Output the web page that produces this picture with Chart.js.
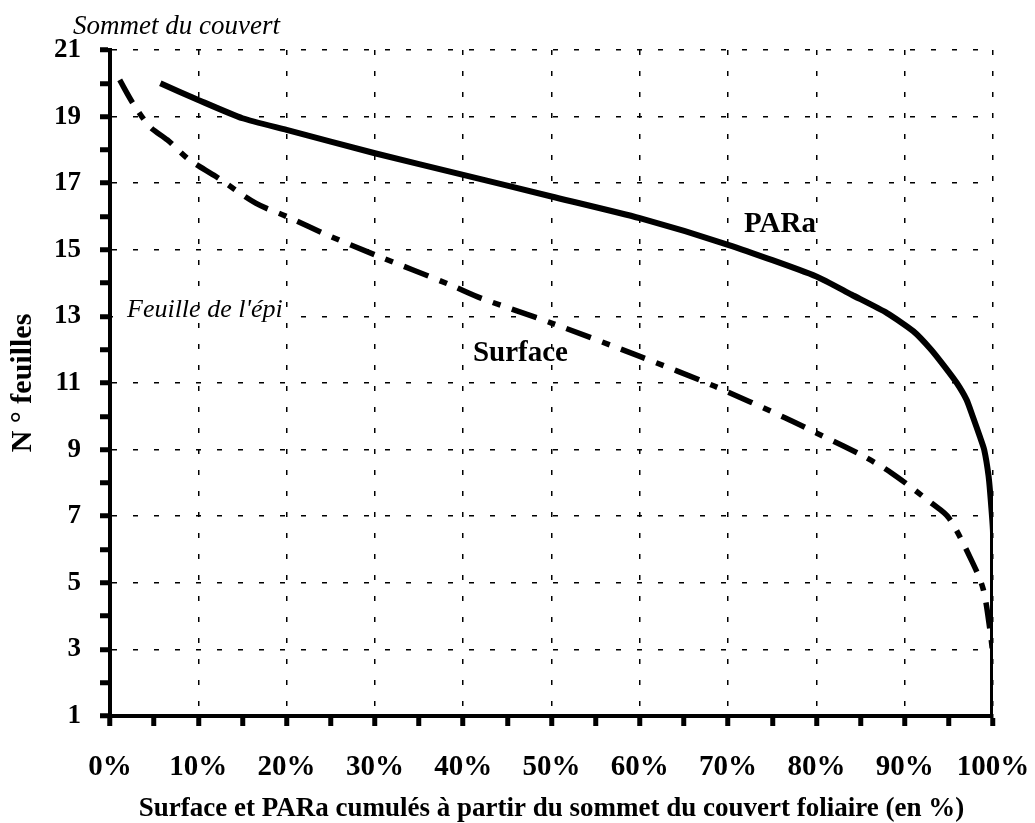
<!DOCTYPE html>
<html>
<head>
<meta charset="UTF-8">
<title>Surface et PARa cumulés</title>
<script src="https://cdn.jsdelivr.net/npm/chart.js@4.4.1/dist/chart.umd.min.js"></script>
<style>
  html, body { margin: 0; padding: 0; background: #fff; }
  #wrap { width: 1035px; height: 823px; }
</style>
</head>
<body>
<div id="wrap"><canvas id="chart" width="1035" height="823"></canvas></div>
<script>
  // PARa cumulé (%) vs n° de feuille
  var parX = [5.7, 10, 15, 20, 30, 40, 50, 60, 70, 80, 84, 88, 91, 93, 94.5, 95.9, 97.0, 97.7, 98.5, 99.0, 99.5, 99.8, 100, 100];
  var parY = [20.0, 19.5, 18.95, 18.6, 17.9, 17.25, 16.6, 15.95, 15.15, 14.2, 13.65, 13.1, 12.55, 12.0, 11.5, 11.0, 10.5, 10.0, 9.4, 9.0, 8.2, 7.3, 6.5, 1.0];

  // Surface cumulée (%) vs n° de feuille
  var surfX = [1.1, 2.6, 4.5, 6.5, 9, 12, 16.5, 20, 25, 30, 38.5, 42, 50, 60, 68.5, 76.5, 80, 85, 88.5, 93, 95, 97.7, 98.9, 99.7, 100];
  var surfY = [20.1, 19.4, 18.7, 18.3, 17.7, 17.2, 16.4, 16.0, 15.4, 14.85, 13.95, 13.55, 12.8, 11.8, 10.9, 9.95, 9.5, 8.85, 8.3, 7.4, 6.95, 5.6, 4.8, 3.5, 2.8];

  var xTicks = [0, 10, 20, 30, 40, 50, 60, 70, 80, 90, 100];
  var yTicks = [1, 3, 5, 7, 9, 11, 13, 15, 17, 19, 21];

  var serif = '"Liberation Serif", "Times New Roman", serif';

  function pts(xs, ys) {
    return xs.map(function (x, i) { return { x: x, y: ys[i] }; });
  }

  // labels and notes drawn in the plot
  var notes = {
    id: 'notes',
    afterDatasetsDraw: function (chart) {
      var ctx = chart.ctx, xs = chart.scales.x, ys = chart.scales.y, a = chart.chartArea;
      ctx.save();
      ctx.fillStyle = '#000';
      ctx.textBaseline = 'alphabetic';
      ctx.textAlign = 'left';

      ctx.font = 'italic 27px ' + serif;
      ctx.fillText('Sommet du couvert', a.left - 37, a.top - 16);

      // Feuille de l'épi sits on the 13 gridline and hides it
      var y13 = ys.getPixelForValue(13);
      ctx.font = 'italic 26px ' + serif;
      var w = ctx.measureText("Feuille de l'épi").width;
      ctx.fillStyle = '#fff';
      ctx.fillRect(a.left + 3, y13 - 3, w + 20, 6);
      ctx.fillStyle = '#000';
      ctx.fillText("Feuille de l'épi", a.left + 17, y13 + 1);

      ctx.font = 'bold 29px ' + serif;
      ctx.textBaseline = 'middle';
      ctx.fillText('PARa', xs.getPixelForValue(71.8), ys.getPixelForValue(15.75));
      ctx.fillText('Surface', xs.getPixelForValue(41.1), ys.getPixelForValue(11.9));
      ctx.restore();
    }
  };

  new Chart(document.getElementById('chart'), {
    type: 'line',
    data: {
      datasets: [{
        label: 'PARa',
        data: pts(parX, parY),
        borderColor: '#000',
        borderWidth: 6,
        pointRadius: 0,
        tension: 0.2,
        fill: false
      }, {
        label: 'Surface',
        data: pts(surfX, surfY),
        borderColor: '#000',
        borderWidth: 5.5,
        borderDash: [26, 12, 8, 12],
        borderCapStyle: 'butt',
        pointRadius: 0,
        tension: 0.3,
        fill: false
      }]
    },
    options: {
      responsive: false,
      animation: false,
      layout: { padding: { left: 0, top: 50, right: 42, bottom: 0 } },
      plugins: {
        legend: { display: false },
        tooltip: { enabled: false }
      },
      scales: {
        x: {
          type: 'linear',
          min: 0,
          max: 100,
          afterFit: function (s) { s.height = 107; s.paddingLeft = 0; s.paddingRight = 0; },
          afterBuildTicks: function (s) {
            var t = [];
            for (var v = 0; v <= 100; v += 5) t.push({ value: v });
            s.ticks = t;
          },
          ticks: {
            color: '#000',
            padding: 24,
            maxRotation: 0,
            autoSkip: false,
            font: { family: serif, size: 29, weight: 'bold' },
            callback: function (v) { return xTicks.indexOf(v) >= 0 ? v + '%' : ''; }
          },
          grid: {
            color: function (c) { return (c.tick && xTicks.indexOf(c.tick.value) > 0) ? '#000' : 'rgba(0,0,0,0)'; },
            lineWidth: 1.5,
            tickColor: '#000',
            tickWidth: 5,
            tickLength: 10
          },
          border: { display: true, color: '#000', width: 4, dash: [5, 16] },
          title: {
            display: true,
            text: 'Surface et PARa cumulés à partir du sommet du couvert foliaire (en %)',
            color: '#000',
            padding: { top: 0, bottom: 0 },
            font: { family: serif, size: 27, weight: 'bold', lineHeight: 1 }
          }
        },
        y: {
          type: 'linear',
          min: 1,
          max: 21,
          afterFit: function (s) { s.width = 110; s.paddingTop = 0; s.paddingBottom = 0; },
          afterBuildTicks: function (s) {
            var t = [];
            for (var v = 1; v <= 21; v += 1) t.push({ value: v });
            s.ticks = t;
          },
          ticks: {
            color: '#000',
            padding: 19,
            autoSkip: false,
            font: { family: serif, size: 27, weight: 'bold' },
            callback: function (v) { return yTicks.indexOf(v) >= 0 ? String(v) : ''; }
          },
          grid: {
            color: function (c) { return (c.tick && yTicks.indexOf(c.tick.value) > 0) ? '#000' : 'rgba(0,0,0,0)'; },
            lineWidth: 1.5,
            tickColor: '#000',
            tickWidth: 5,
            tickLength: 10
          },
          border: { display: true, color: '#000', width: 4, dash: [5, 16] },
          title: {
            display: true,
            text: 'N ° feuilles',
            color: '#000',
            padding: { top: 8, bottom: 0 },
            font: { family: serif, size: 30, weight: 'bold', lineHeight: 1 }
          }
        }
      }
    },
    plugins: [notes]
  });
</script>
</body>
</html>
